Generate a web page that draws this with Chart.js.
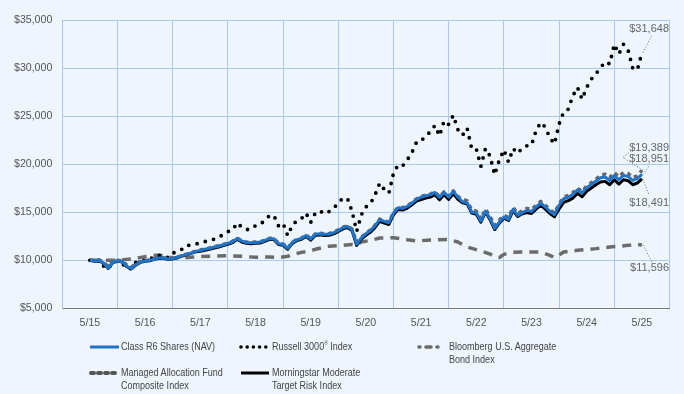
<!DOCTYPE html>
<html>
<head>
<meta charset="utf-8">
<script src="https://cdn.jsdelivr.net/npm/chart.js@4.4.1/dist/chart.umd.min.js"></script>
<style>
  html, body { margin:0; padding:0; background:#eef5fc; }
  #wrap { position:relative; width:684px; height:394px; overflow:hidden; }
  canvas { position:absolute; left:0; top:0; }
  .lg { position:absolute; font-family:'Liberation Sans',Arial,sans-serif; font-size:11px; color:#444; line-height:12.8px; white-space:nowrap; transform:scaleX(0.82); transform-origin:0 0; }
  .sw { position:absolute; }
  sup { font-size:6px; vertical-align:top; line-height:6px; }
</style>
</head>
<body>
<div id="wrap">
  <canvas id="c" width="684" height="394"></canvas>

  <svg class="sw" style="left:88px;top:342px" width="34" height="10"><line x1="2" y1="5" x2="31" y2="5" stroke="#1f73c9" stroke-width="3"/></svg>
  <div class="lg" style="left:121px;top:340px">Class R6 Shares (NAV)</div>

  <svg class="sw" style="left:236px;top:342px" width="38" height="10"><line x1="5" y1="5" x2="34" y2="5" stroke="#000" stroke-width="3.6" stroke-linecap="round" stroke-dasharray="0 6.2"/></svg>
  <div class="lg" style="left:272px;top:340px">Russell 3000<sup>®</sup> Index</div>

  <svg class="sw" style="left:414px;top:342px" width="36" height="10"><line x1="5" y1="5" x2="31" y2="5" stroke="#6b6b6b" stroke-width="3.6" stroke-linecap="round" stroke-dasharray="1 6 5 6 1 40"/></svg>
  <div class="lg" style="left:449px;top:340px">Bloomberg U.S. Aggregate<br>Bond Index</div>

  <svg class="sw" style="left:86px;top:368px" width="36" height="10"><line x1="5" y1="5" x2="32" y2="5" stroke="#555" stroke-width="4" stroke-linecap="round" stroke-dasharray="3 4"/></svg>
  <div class="lg" style="left:121px;top:366px">Managed Allocation Fund<br>Composite Index</div>

  <svg class="sw" style="left:238px;top:368px" width="34" height="10"><line x1="3" y1="5" x2="31" y2="5" stroke="#000" stroke-width="3"/></svg>
  <div class="lg" style="left:272px;top:366px">Morningstar Moderate<br>Target Risk Index</div>
</div>
<script>
// ---- data (monthly, May 2015 = month 0 ... May 2025 = month 120) ----
const yearLabels = ['5/15','5/16','5/17','5/18','5/19','5/20','5/21','5/22','5/23','5/24','5/25'];

const classR6 = [
  10000, 9930,10000, 9700, 9200, 9800, 9960, 9860, 9380, 9150, 9550, 9830,
   9930,10000,10140,10240,10240,10140,10190,10310,10490,10620,10760,10930,
  11040,11150,11250,11390,11490,11630,11770,11940,12290,12010,11870,11840,
  11870,11910,12080,12260,12260,11740,11670,11250,11870,12150,12290,12600,
  12220,12710,12780,12710,12740,12880,13120,13400,13540,13190,11670,12330,
  12780,13120,13610,14240,14060,13920,14930,15490,15420,15620,15970,16360,
  16580,16740,16840,17080,16560,17080,16600,17190,16600,16110,16010,15040,
  14930,14100,15140,14340,13330,13990,14510,14270,15310,14690,14970,15210,
  15100,15560,15970,15560,15100,14760,15730,16420,16600,16870,17360,17010,
  17570,17920,18260,18610,18680,18330,18850,18400,18850,18750,18330,18510,
  18951];

const russell3000 = [
  10000, 9830,10000, 9400, 9120, 9850, 9900, 9700, 9150, 9150, 9800, 9850,
  10030,10050,10450,10480,10500,10270,10730,10940,11150,11560,11570,11700,
  11840,11950,12100,12200,12400,12700,13000,13150,13900,13470,13200,13250,
  13620,13720,14170,14650,14680,13600,13870,12580,13660,14140,14350,14920,
  13950,14930,15150,14850,15090,15420,16010,16470,16450,15100,13020,14740,
  15560,15920,16830,18040,17390,17010,19080,19940,19860,20480,21220,22320,
  22430,22990,23380,24060,22980,24540,24170,25120,23630,23040,23780,21640,
  21620,19800,21660,20860,18920,20450,21520,20250,21650,21150,21720,21940,
  22020,23520,24370,23900,22760,22140,24200,25480,25760,27160,28020,26790,
  28020,28890,29440,30060,30690,30480,32520,31510,32520,31900,30050,29840,
  31648];

const bloombergMonths = [0,3,6,9,13,15,18,21,24,27,30,33,36,39,41,43,44,46,48,49,52,55,57,58,59,61,63,66,69,71,74,78,80,82,85,87,88,89,90,92,95,98,100,101,103,106,110,113,117,119,120];
const bloombergAgg = [10000,10000,10000,10150,10450,10550,10250,10300,10400,10450,10490,10420,10310,10350,10280,10420,10600,10830,11000,11150,11460,11560,11650,11600,11910,12080,12330,12360,12150,12010,12120,12190,11910,11390,10970,10650,10350,10300,10620,10830,10870,10870,10520,10280,10870,11040,11220,11390,11560,11670,11596];

const managedComposite = [
  10000, 9990,10060, 9800, 9350, 9880,10020, 9930, 9500, 9300, 9650, 9890,
   9990,10030,10170,10270,10270,10170,10220,10340,10520,10650,10790,10960,
  11070,11180,11280,11420,11520,11660,11800,11970,12320,12040,11900,11870,
  11900,11940,12110,12290,12290,11770,11700,11280,11900,12180,12320,12650,
  12270,12760,12830,12760,12790,12930,13170,13450,13590,13240,11870,12390,
  12840,13180,13670,14300,14120,13980,14990,15550,15480,15680,16030,16420,
  16640,16800,16900,17140,16620,17140,16660,17250,16660,16310,16210,15240,
  15130,14300,15340,14540,13630,14190,14710,14470,15510,14890,15170,15410,
  15300,15730,16140,15730,15270,14930,15900,16590,16770,17040,17530,17180,
  17740,18090,18430,18910,18980,18630,19150,18700,19150,19050,18630,18810,
  19389];

const morningstarMod = [
  10000, 9890, 9960, 9660, 9160, 9760, 9920, 9820, 9340, 9110, 9510, 9790,
   9890, 9960,10100,10200,10200,10100,10150,10270,10450,10580,10720,10890,
  10940,11050,11150,11290,11390,11530,11670,11840,12190,11910,11770,11740,
  11770,11810,11980,12160,12160,11640,11570,11150,11770,12050,12190,12480,
  12100,12590,12660,12590,12620,12760,13000,13280,13420,13070,11550,12210,
  12600,12940,13430,14060,13880,13740,14750,15310,15240,15440,15790,16180,
  16330,16490,16590,16830,16310,16830,16350,16940,16350,15990,15890,14920,
  14810,13980,15020,14220,13210,13870,14390,14150,15190,14570,14850,14990,
  14880,15340,15750,15340,14880,14540,15350,16040,16220,16490,16980,16630,
  17190,17540,17880,18160,18230,17880,18400,17950,18400,18300,17880,18060,
  18491];

const yTicks = [5000, 35000, 5000]; // min, max, step

// ---- build chart ----
const toXY = (vals, xs) => vals.map((v, i) => ({ x: xs ? xs[i] : i, y: v }));
const gridColor = '#a9c9f2';
const tickFont = { family: "'Liberation Sans', Arial, sans-serif", size: 10.6 };

const endLabels = {
  id: 'endLabels',
  afterDatasetsDraw(chart) {
    const ctx = chart.ctx, xs = chart.scales.x, ys = chart.scales.y;
    const items = [
      { ds: 1, text: '$31,648', ty: 28.5, color: '#666', path: [[652, 35]] },
      { ds: 3, text: '$19,389', ty: 148, color: '#666', path: [[623, 157.5], [632, 150.5]] },
      { ds: 0, text: '$18,951', ty: 159, color: '#1f73c9', path: [[650, 165]] },
      { ds: 4, text: '$18,491', ty: 203, color: '#666', path: [[649, 195]] },
      { ds: 2, text: '$11,596', ty: 268, color: '#666', path: [[652, 262]] }
    ];
    ctx.save();
    items.forEach(it => {
      const data = chart.data.datasets[it.ds].data;
      const last = data[data.length - 1];
      const px = xs.getPixelForValue(last.x), py = ys.getPixelForValue(last.y);
      ctx.beginPath();
      ctx.setLineDash([1, 2]);
      ctx.lineWidth = 1;
      ctx.strokeStyle = it.color;
      ctx.moveTo(px + 1, py);
      it.path.forEach(p => ctx.lineTo(p[0], p[1]));
      ctx.stroke();
    });
    ctx.setLineDash([]);
    ctx.font = "11px 'Liberation Sans', Arial, sans-serif";
    ctx.fillStyle = '#666';
    ctx.textAlign = 'right';
    ctx.textBaseline = 'middle';
    items.forEach(it => ctx.fillText(it.text, 669, it.ty));
    ctx.restore();
  }
};

new Chart(document.getElementById('c'), {
  type: 'line',
  data: {
    datasets: [
      { label: 'Class R6 Shares (NAV)', data: toXY(classR6), borderColor: '#1f73c9', borderWidth: 3, order: 0 },
      { label: 'Russell 3000® Index', data: toXY(russell3000), borderColor: '#000', borderWidth: 3.8, borderDash: [0, 8.5], borderCapStyle: 'round', order: 3 },
      { label: 'Bloomberg U.S. Aggregate Bond Index', data: toXY(bloombergAgg, bloombergMonths), borderColor: '#6b6b6b', borderWidth: 3.5, borderDash: [9, 7], order: 4 },
      { label: 'Managed Allocation Fund Composite Index', data: toXY(managedComposite), borderColor: '#666', borderWidth: 3.5, borderDash: [4, 4], order: 1 },
      { label: 'Morningstar Moderate Target Risk Index', data: toXY(morningstarMod), borderColor: '#000', borderWidth: 3, order: 2 }
    ]
  },
  options: {
    responsive: false,
    animation: false,
    devicePixelRatio: 1,
    layout: { padding: { left: 0, right: 14.5, top: 20.5, bottom: 61.7 } },
    elements: { point: { radius: 0 }, line: { tension: 0, borderJoinStyle: 'round', fill: false } },
    plugins: { legend: { display: false }, tooltip: { enabled: false } },
    scales: {
      x: {
        type: 'linear', min: -6, max: 126,
        afterFit: s => { s.height = 24; },
        border: { color: '#7a7a7a', width: 1 },
        grid: { drawTicks: false, color: c => (c.tick && c.tick.value % 12 === 0) ? 'rgba(0,0,0,0)' : gridColor, lineWidth: 1 },
        ticks: { stepSize: 6, autoSkip: false, maxRotation: 0, padding: 8, color: '#555', font: tickFont,
          callback: v => (v % 12 === 0 && v >= 0) ? yearLabels[v / 12] : '' }
      },
      y: {
        min: yTicks[0], max: yTicks[1],
        afterFit: s => { s.width = 62.3; },
        border: { color: gridColor, width: 1 },
        grid: { drawTicks: false, color: gridColor, lineWidth: 1 },
        ticks: { stepSize: yTicks[2], padding: 10, color: '#555', font: tickFont,
          callback: v => '$' + v.toLocaleString('en-US') }
      }
    }
  },
  plugins: [endLabels]
});
</script>
</body>
</html>
